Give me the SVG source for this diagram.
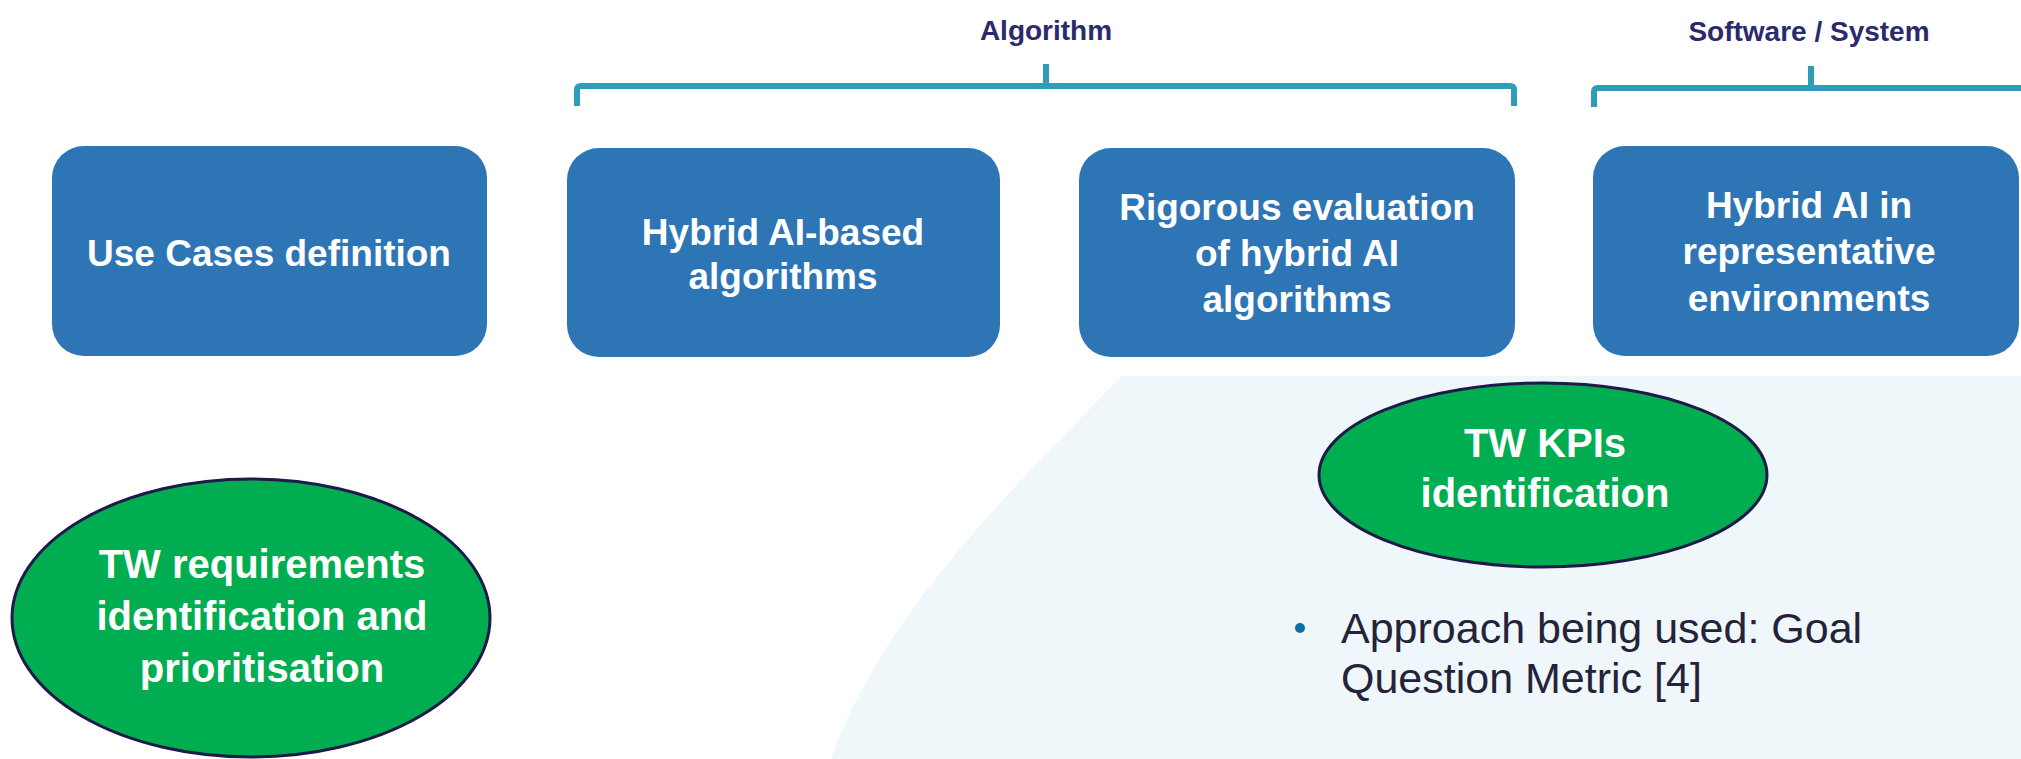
<svg xmlns="http://www.w3.org/2000/svg" width="2021" height="759" viewBox="0 0 2021 759">
<style>
.box{fill:#2E75B6;}
.bt{fill:#FFFFFF;font-family:"Liberation Sans",Arial,sans-serif;font-weight:bold;font-size:37px;text-anchor:middle;}
.grp{fill:#2A2A6C;font-family:"Liberation Sans",Arial,sans-serif;font-weight:bold;font-size:28px;text-anchor:middle;}
.br{fill:none;stroke:#2E9DB5;stroke-width:6;stroke-linejoin:round;}
.ell{fill:#00AD50;stroke:#1E1B4B;stroke-width:3;}
.et{fill:#FFFFFF;font-family:"Liberation Sans",Arial,sans-serif;font-weight:bold;font-size:40px;text-anchor:middle;}
.bul{fill:#24233A;font-family:"Liberation Sans",Arial,sans-serif;font-size:43px;}
</style>
<rect x="0" y="0" width="2021" height="759" fill="#FFFFFF"/>
<path d="M1122,376 L2021,376 L2021,759 L831,759 C880,620 1000,500 1122,376 Z" fill="#EFF7FA"/>
<g id="connectors">
<path class="br" d="M577,106 L577,90 Q577,86 581,86 L1510,86 Q1514,86 1514,90 L1514,106"/>
<path class="br" d="M1046,86 L1046,64"/>
<path class="br" d="M1594,107 L1594,92 Q1594,88 1598,88 L2021,88"/>
<path class="br" d="M1811,88 L1811,66"/>
</g>
<g id="label-algorithm"><text class="grp" x="1046" y="40">Algorithm</text></g>
<g id="label-software"><text class="grp" x="1809" y="41">Software / System</text></g>
<g id="box-usecases">
<rect class="box" x="52" y="146" width="435" height="210" rx="32" ry="32"/>
<text class="bt" x="269" y="266">Use Cases definition</text>
</g>
<g id="box-hybrid-algorithms">
<rect class="box" x="567" y="148" width="433" height="209" rx="32" ry="32"/>
<text class="bt" x="783" y="245">Hybrid AI-based</text>
<text class="bt" x="783" y="289">algorithms</text>
</g>
<g id="box-rigorous">
<rect class="box" x="1079" y="148" width="436" height="209" rx="32" ry="32"/>
<text class="bt" x="1297" y="220">Rigorous evaluation</text>
<text class="bt" x="1297" y="266">of hybrid AI</text>
<text class="bt" x="1297" y="312">algorithms</text>
</g>
<g id="box-environments">
<rect class="box" x="1593" y="146" width="426" height="210" rx="32" ry="32"/>
<text class="bt" x="1809" y="218">Hybrid AI in</text>
<text class="bt" x="1809" y="264">representative</text>
<text class="bt" x="1809" y="311">environments</text>
</g>
<g id="ellipse-requirements">
<ellipse class="ell" cx="251" cy="618" rx="239" ry="139"/>
<text class="et" x="262" y="578">TW requirements</text>
<text class="et" x="262" y="630">identification and</text>
<text class="et" x="262" y="682">prioritisation</text>
</g>
<g id="ellipse-kpis">
<ellipse class="ell" cx="1543" cy="475" rx="224" ry="92"/>
<text class="et" x="1545" y="457">TW KPIs</text>
<text class="et" x="1545" y="507">identification</text>
</g>
<g id="bullet-text">
<circle cx="1300" cy="628" r="5" fill="#0B6FA4"/>
<text class="bul" x="1341" y="643">Approach being used: Goal</text>
<text class="bul" x="1341" y="693">Question Metric [4]</text>
</g>
</svg>
